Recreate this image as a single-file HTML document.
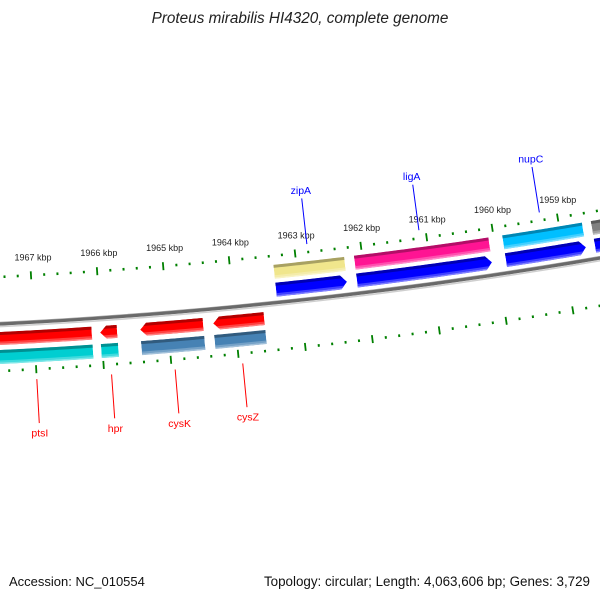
<!DOCTYPE html>
<html><head><meta charset="utf-8"><style>
html,body{margin:0;padding:0;background:#fff;}
svg{display:block;font-family:"Liberation Sans",sans-serif;}
</style></head><body>
<svg id="map" width="600" height="600" viewBox="0 0 600 600" xmlns="http://www.w3.org/2000/svg">
<rect width="600" height="600" fill="#fff"/>
<text x="300" y="23" text-anchor="middle" font-style="italic" font-size="15.3" fill="#222">Proteus mirabilis HI4320, complete genome</text>
<defs id="defs"></defs>
<g id="plot"></g>
<text x="9" y="586" font-size="13" fill="#111">Accession: NC_010554</text>
<text x="590" y="586" text-anchor="end" font-size="13.4" fill="#111">Topology: circular; Length: 4,063,606 bp; Genes: 3,729</text>
</svg>
<script>
// gene data (bp)
const geneNames = ["zipA","ligA","nupC","","ptsI","hpr","cysK","cysZ"];
const geneStarts = [1962272,1960079,1958653,1957300,1966143,1965765,1964478,1963564];
const geneEnds   = [1963343,1962122,1959868,1958516,1967855,1966019,1965420,1964328];
const geneStrands = ["top","top","top","top","bottom","bottom","bottom","bottom"];
const cogColors = ["#F0E68C","#FF1493","#00BFFF","#808080","#00CED1","#00CED1","#4682B4","#4682B4"];
const tickStart = 1957400, tickEnd = 1968800, minorStep = 200, majorStep = 1000;

const NS = "http://www.w3.org/2000/svg";
const CX = -245, CY = -4670, R0 = 5000;
const plot = document.getElementById('plot');
const defs = document.getElementById('defs');
function ang(bp){ return (83.74 + (bp/1000 - 1963)*0.7665) * Math.PI/180; }
function pt(bp, r){ const a = ang(bp); return [CX + r*Math.cos(a), CY + r*Math.sin(a)]; }
function mk(tag, attrs){ const e = document.createElementNS(NS, tag); for (const k in attrs) e.setAttribute(k, attrs[k]); return e; }
function arcPts(b1, b2, r){ const pts=[]; const n=30; for(let i=0;i<=n;i++){ pts.push(pt(b1+(b2-b1)*i/n, r)); } return pts; }
function ptsStr(p){ return p.map(q=>q[0].toFixed(2)+','+q[1].toFixed(2)).join(' '); }

// backbone
[[R0-1.6,"#a8a8a8",1.2],[R0,"#6a6a6a",3.2],[R0+2.6,"#cfcfcf",1.6]].forEach((s,i)=>{
  const pl = mk('polyline',{points:ptsStr(arcPts(1956800,1969500,s[0])),fill:'none',stroke:s[1],'stroke-width':s[2]});
  
  
  plot.appendChild(pl);
});

// ticks
function drawTicks(rc, side){
  for (let bp = tickStart; bp <= tickEnd; bp += minorStep){
    const major = bp % majorStep === 0;
    const h = major ? 4 : 1.3;
    const p1 = pt(bp, rc-h), p2 = pt(bp, rc+h);
    const ln = mk('line',{x1:p1[0],y1:p1[1],x2:p2[0],y2:p2[1],stroke:'#008000','stroke-width':major?1.8:2});
    
    
    plot.appendChild(ln);
    if (major && side === 'top'){
      const tp = pt(bp, rc-18);
      const t = mk('text',{x:tp[0]+3,y:tp[1]+3,'text-anchor':'middle','font-size':'9',fill:'#222'});
      t.textContent = (bp/1000) + ' kbp';
      
      
      plot.appendChild(t);
    }
  }
}
drawTicks(R0-47, 'top');
drawTicks(R0+47, 'bottom');

function shade(c, f){ const n=parseInt(c.slice(1),16); let r=n>>16,g=(n>>8)&255,b=n&255;
  if(f<0){r*=1+f;g*=1+f;b*=1+f;} else {r+=(255-r)*f;g+=(255-g)*f;b+=(255-b)*f;}
  return 'rgb('+Math.round(r)+','+Math.round(g)+','+Math.round(b)+')'; }

function drawBar(idx, lo, hi, rIn, rOut, color, arrow, name){
  let poly;
  const ab = 95, mid = (rIn+rOut)/2;
  if (arrow === 'right'){
    poly = arcPts(hi, lo+ab, rIn).concat([pt(lo, mid)]).concat(arcPts(lo+ab, hi, rOut));
  } else if (arrow === 'left'){
    poly = arcPts(lo, hi-ab, rIn).concat([pt(hi, mid)]).concat(arcPts(hi-ab, lo, rOut));
  } else {
    poly = arcPts(lo, hi, rIn).concat(arcPts(hi, lo, rOut));
  }
  const id = 'clip'+name+idx;
  const cp = mk('clipPath',{id:id});
  cp.appendChild(mk('polygon',{points:ptsStr(poly)}));
  defs.appendChild(cp);
  const g = mk('g',{'clip-path':'url(#'+id+')'});
  
  
  const base = mk('polygon',{points:ptsStr(poly),fill:color});
  g.appendChild(base);
  const bands = [[rIn-2, rIn+3, shade(color,-0.3)],[rOut-3.5, rOut-1.5, shade(color,0.25)],[rOut-1.5, rOut+2, shade(color,0.5)]];
  bands.forEach(b=>{
    g.appendChild(mk('polygon',{points:ptsStr(arcPts(lo-200,hi+200,b[0]).concat(arcPts(hi+200,lo-200,b[1]))),fill:b[2]}));
  });
  plot.appendChild(g);
}

for (let i = 0; i < geneStarts.length; i++){
  const lo = geneStarts[i], hi = geneEnds[i];
  if (geneStrands[i] === 'top'){
    drawBar(i, lo, hi, R0-20, R0-6, '#0000FF', 'right', 'gene-'+(geneNames[i]||'unnamed'));
    drawBar(i, lo, hi, R0-38, R0-24, cogColors[i], null, 'cog-'+(geneNames[i]||'unnamed'));
  } else {
    drawBar(i, lo, hi, R0+8, R0+21, '#FF0000', 'left', 'gene-'+geneNames[i]);
    drawBar(i, lo, hi, R0+26, R0+40, cogColors[i], null, 'cog-'+geneNames[i]);
  }
  if (geneNames[i]){
    const m = (lo+hi)/2;
    const top = geneStrands[i] === 'top';
    const col = top ? '#0000FF' : '#FF0000';
    const a = pt(m, top ? R0-55 : R0+57), b = pt(m, top ? R0-101 : R0+101);
    const ln = mk('line',{x1:a[0],y1:a[1],x2:b[0],y2:b[1],stroke:col,'stroke-width':1});
    
    
    plot.appendChild(ln);
    const tp = pt(m, top ? R0-109 : R0+111);
    const t = mk('text',{x:tp[0],y:tp[1]+3.5,'text-anchor':'middle','font-size':'10.5',fill:col});
    t.textContent = geneNames[i];
    
    
    plot.appendChild(t);
  }
}
</script>
</body></html>
